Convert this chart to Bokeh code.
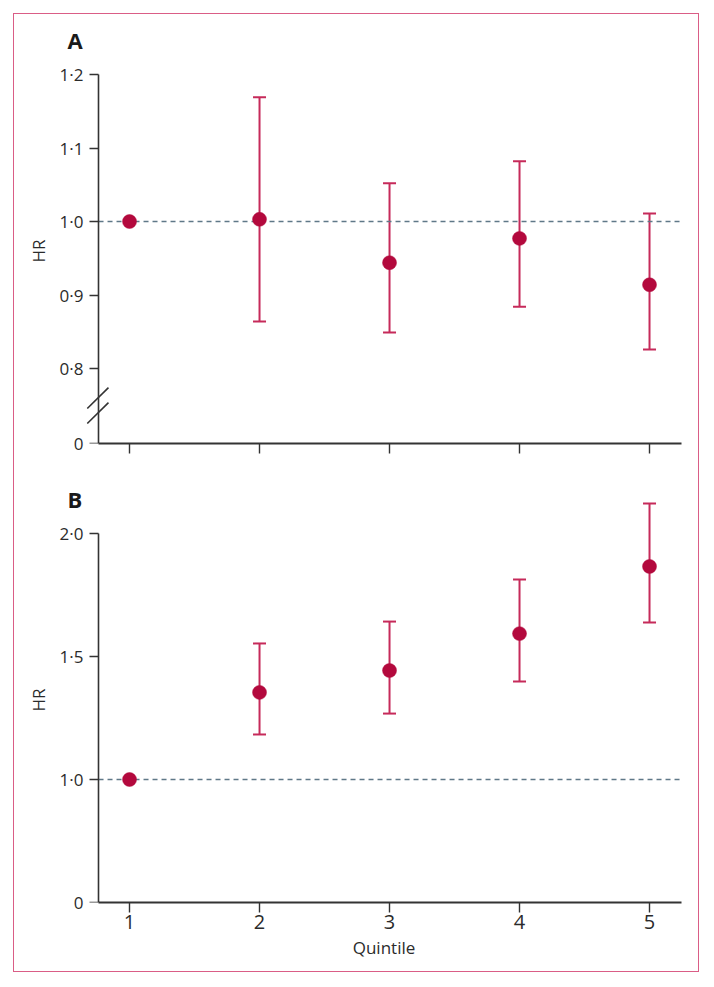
from bokeh.plotting import figure
from bokeh.models import (ColumnDataSource, Whisker, TeeHead, FixedTicker, Range1d,
                          Column, Title, LinearAxis)
from bokeh.embed import file_html
from bokeh.resources import INLINE

# ---------------- data ----------------
quintiles = [1, 2, 3, 4, 5]
ci_quintiles = [2, 3, 4, 5]

hr_a = [1.0, 1.003, 0.944, 0.977, 0.914]
lo_a = [0.864, 0.849, 0.884, 0.826]
hi_a = [1.169, 1.052, 1.082, 1.011]

hr_b = [1.0, 1.354, 1.443, 1.593, 1.866]
lo_b = [1.183, 1.268, 1.398, 1.638]
hi_b = [1.553, 1.642, 1.813, 2.122]

# broken-axis positions for the "0" tick
zero_a = 0.698
zero_b = 0.5
ticks_a = [zero_a, 0.8, 0.9, 1.0, 1.1, 1.2]
tick_labels_a = ["0", "0·8", "0·9", "1·0", "1·1", "1·2"]
ticks_b = [zero_b, 1.0, 1.5, 2.0]
tick_labels_b = ["0", "1·0", "1·5", "2·0"]
x_labels = ["1", "2", "3", "4", "5"]

# ---------------- style ----------------
FONT = "Open Sans"
TXT = "#2b2b2b"
AX = "#333333"
DOT = "#b3093d"
BAR = "#c62a5a"
REF = "#5f7888"
BORDER = "#da5d86"

X_FRAME0 = 0.669      # frame starts a little left of the y axis (room for break marks)
X_AXIS0 = 0.7615      # where the y axis line is drawn
X1 = 5.246


def base_fig(height, y0, y1, ymax_bound, ticks, labels, top, bottom, show_xlabels):
    p = figure(width=684, height=height, x_range=Range1d(X_FRAME0, X1),
               y_range=Range1d(y0, y1),
               output_backend="svg", toolbar_location=None, title=None,
               min_border_left=72, min_border_right=17,
               min_border_top=top, min_border_bottom=bottom)
    p.outline_line_color = None
    p.xgrid.visible = False
    p.ygrid.visible = False
    p.background_fill_color = "white"
    p.border_fill_color = "white"

    # left axis: tick labels and axis title only
    ya = p.yaxis[0]
    ya.ticker = FixedTicker(ticks=ticks)
    ya.major_label_overrides = {t: l for t, l in zip(ticks, labels)}
    ya.bounds = (y0, ymax_bound)
    ya.axis_label = "HR"
    ya.axis_label_text_font = FONT
    ya.axis_label_text_font_size = "17px"
    ya.axis_label_text_font_style = "normal"
    ya.axis_label_text_color = TXT
    ya.axis_label_standoff = 7
    ya.major_label_text_font = FONT
    ya.major_label_text_font_size = "17px"
    ya.major_label_text_color = TXT
    ya.major_label_standoff = 3
    ya.major_tick_out = 0
    ya.major_tick_in = 0
    ya.minor_tick_out = 0
    ya.minor_tick_in = 0
    ya.axis_line_color = None
    ya.major_tick_line_color = None

    # axis line + ticks, drawn at the quintile-axis origin
    yl = LinearAxis(fixed_location=X_AXIS0, ticker=FixedTicker(ticks=ticks),
                    bounds=(y0, ymax_bound),
                    major_label_overrides={t: "" for t in ticks},
                    major_label_standoff=0,
                    major_tick_in=9, major_tick_out=0,
                    minor_tick_in=0, minor_tick_out=0,
                    axis_line_color=AX, axis_line_width=1.6,
                    major_tick_line_color=AX, major_tick_line_width=1.4)
    p.add_layout(yl, "right")

    xa = p.xaxis[0]
    xa.ticker = FixedTicker(ticks=quintiles)
    xa.bounds = (X_AXIS0, X1)
    xa.major_tick_out = 10
    xa.major_tick_in = 0
    xa.minor_tick_out = 0
    xa.minor_tick_in = 0
    xa.axis_line_color = AX
    xa.axis_line_width = 1.8
    xa.major_tick_line_color = AX
    xa.major_tick_line_width = 1.4
    xa.major_label_text_font = FONT
    xa.major_label_text_color = TXT
    if show_xlabels:
        xa.major_label_overrides = {q: l for q, l in zip(quintiles, x_labels)}
        xa.major_label_text_font_size = "20px"
        xa.major_label_standoff = 2
        xa.axis_label = "Quintile"
        xa.axis_label_text_font = FONT
        xa.axis_label_text_font_size = "17px"
        xa.axis_label_text_font_style = "normal"
        xa.axis_label_text_color = TXT
        xa.axis_label_standoff = 4
    else:
        xa.major_label_overrides = {q: "" for q in quintiles}
        xa.major_label_standoff = 0
    return p


def add_data(p, hr, lo, hi):
    # reference line at HR = 1 across the axis extent
    p.line([X_AXIS0, X1], [1.0, 1.0], line_color=REF, line_dash="5 4", line_width=1.6)
    src = ColumnDataSource(dict(x=ci_quintiles, lo=lo, hi=hi))
    w = Whisker(base="x", lower="lo", upper="hi", source=src,
                line_color=BAR, line_width=2,
                upper_head=TeeHead(size=13, line_color=BAR, line_width=2),
                lower_head=TeeHead(size=13, line_color=BAR, line_width=2))
    p.add_layout(w)
    p.scatter(quintiles, hr, size=14, fill_color=DOT, line_color=DOT, line_width=0.5)


def panel_title(text, offset, standoff):
    return Title(text=text, align="left", offset=offset, standoff=standoff,
                 text_font=FONT, text_font_size="22px", text_font_style="bold",
                 text_color="#1a1a1a")


# Panel A (frame 385 px tall, 735 px per HR unit)
yA1 = zero_a + 385 / 735
pA = base_fig(456, zero_a, yA1, 1.2, ticks_a, tick_labels_a, 44, 27, False)
add_data(pA, hr_a, lo_a, hi_a)
pA.add_layout(panel_title("A", -19, 8), "above")
# axis-break marks
brk_x = [[0.675, 0.838], [0.675, 0.838]]
brk_y = [[0.7456, 0.7741], [0.7252, 0.7537]]
pA.multi_line(brk_x, brk_y, line_color=AX, line_width=1.6)

# Panel B (frame 405 px tall, 246 px per HR unit)
yB1 = zero_b + 405 / 246
pB = base_fig(501, zero_b, yB1, 2.0, ticks_b, tick_labels_b, 27, 69, True)
add_data(pB, hr_b, lo_b, hi_b)
pB.add_layout(panel_title("B", -19, -33), "above")

layout = Column(children=[pA, pB], spacing=0,
                styles={"border": f"1.5px solid {BORDER}", "margin": "13px",
                        "background-color": "white"})

open("out.html", "w").write(file_html(layout, INLINE))
